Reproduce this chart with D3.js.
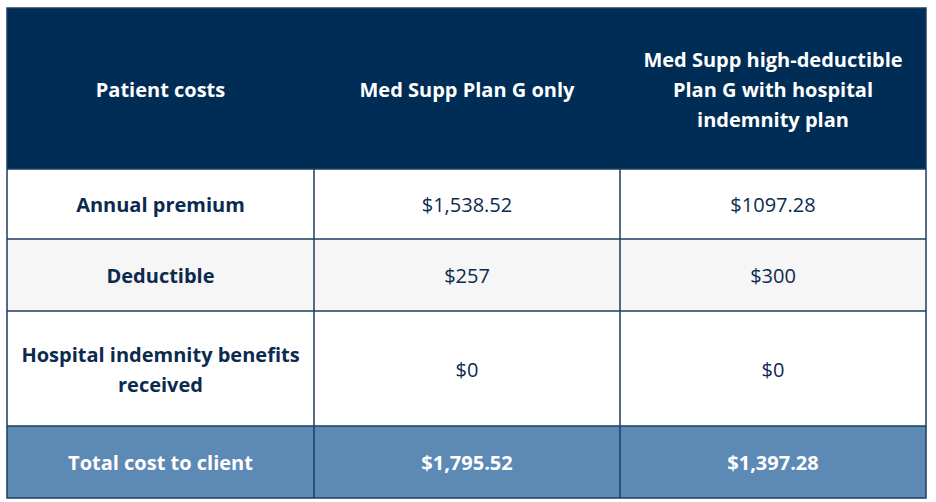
<!DOCTYPE html>
<html>
<head>
<meta charset="utf-8">
<script src="https://cdn.jsdelivr.net/npm/d3@7/dist/d3.min.js"></script>
<style>
  html, body { margin: 0; padding: 0; background: #ffffff; }
  svg { display: block; }
  text { font-family: "Open Sans", "Noto Sans", sans-serif; }
</style>
</head>
<body>
<svg id="chart" width="936" height="502"></svg>
<script>
// ---- data ----
const columnHeaders = ["Patient costs", "Med Supp Plan G only", "Med Supp high-deductible Plan G with hospital indemnity plan"];
const rowLabels = ["Annual premium", "Deductible", "Hospital indemnity benefits received"];
const planGOnly = ["$1,538.52", "$257", "$0"];
const highDeductible = ["$1097.28", "$300", "$0"];
const totalLabel = "Total cost to client";
const totals = ["$1,795.52", "$1,397.28"];

// ---- layout ----
const tblLeft = 7, tblRight = 926, tblTop = 8;
const colEdges = [tblLeft, 314, 620, tblRight];
const rowHeights = [161, 70, 72, 115, 72]; // header, 3 body rows, footer
const colors = {
  header: "#002d56",
  footer: "#5c8ab5",
  border: "#1c3c62",
  text: "#0b2a4f",
  alt: "#f6f6f6",
  white: "#ffffff"
};

const svg = d3.select("#chart");

// build table rows from data
const rows = [];
rows.push({ type: "header", cells: columnHeaders });
rowLabels.forEach((lab, i) => rows.push({ type: "body", idx: i, cells: [lab, planGOnly[i], highDeductible[i]] }));
rows.push({ type: "footer", cells: [totalLabel].concat(totals) });

let yAcc = tblTop;
rows.forEach((r, i) => { r.y0 = yAcc; r.h = rowHeights[i]; yAcc += rowHeights[i]; });
const tblBottom = yAcc;

const xCol = d3.scaleOrdinal().domain([0, 1, 2]).range(colEdges.slice(0, 3));
const colW = i => colEdges[i + 1] - colEdges[i];

// backgrounds
svg.selectAll("rect.rowbg").data(rows).join("rect")
  .attr("class", "rowbg")
  .attr("x", tblLeft).attr("y", d => d.y0)
  .attr("width", tblRight - tblLeft).attr("height", d => d.h)
  .attr("fill", d => d.type === "header" ? colors.header : d.type === "footer" ? colors.footer : (d.idx === 1 ? colors.alt : colors.white));

// horizontal lines
const hLines = rows.slice(1).map(r => r.y0);
svg.selectAll("line.h").data(hLines).join("line")
  .attr("class", "h")
  .attr("x1", tblLeft).attr("x2", tblRight)
  .attr("y1", d => d).attr("y2", d => d)
  .attr("stroke", colors.border).attr("stroke-width", 1.5);

// vertical lines (below header)
svg.selectAll("line.v").data([colEdges[1], colEdges[2]]).join("line")
  .attr("class", "v")
  .attr("x1", d => d).attr("x2", d => d)
  .attr("y1", tblTop + rowHeights[0]).attr("y2", tblBottom)
  .attr("stroke", colors.border).attr("stroke-width", 1.5);

// outer border
svg.append("rect")
  .attr("x", tblLeft).attr("y", tblTop)
  .attr("width", tblRight - tblLeft).attr("height", tblBottom - tblTop)
  .attr("fill", "none").attr("stroke", colors.border).attr("stroke-width", 1.5);

// text with wrapping
function wrapLines(textSel, str, maxW) {
  const words = str.split(" ");
  const lines = [];
  let cur = "";
  const tmp = textSel.append("tspan");
  words.forEach(w => {
    const test = cur ? cur + " " + w : w;
    tmp.text(test);
    if (tmp.node().getComputedTextLength() > maxW && cur) {
      lines.push(cur);
      cur = w;
    } else {
      cur = test;
    }
  });
  if (cur) lines.push(cur);
  tmp.remove();
  return lines;
}

rows.forEach(r => {
  r.cells.forEach((c, ci) => {
    const bold = r.type !== "body" || ci === 0;
    const fill = (r.type === "body") ? colors.text : colors.white;
    const size = 20;
    const lineH = 30;
    const t = svg.append("text")
      .attr("text-anchor", "middle")
      .attr("font-size", size)
      .attr("font-weight", bold ? 700 : 400)
      .attr("fill", fill);
    const lines = wrapLines(t, c, 288);
    const cx = xCol(ci) + colW(ci) / 2;
    const cy = r.y0 + r.h / 2 + 1;
    const startY = cy - (lines.length - 1) * lineH / 2;
    lines.forEach((ln, li) => {
      t.append("tspan")
        .attr("x", cx)
        .attr("y", startY + li * lineH)
        .attr("dy", "0.35em")
        .text(ln);
    });
  });
});
</script>
</body>
</html>
